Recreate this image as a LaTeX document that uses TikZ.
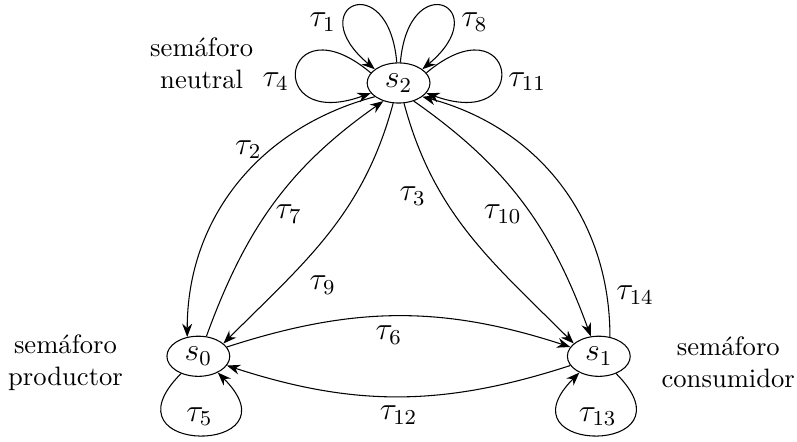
\documentclass[tikz,border=0pt]{standalone}
\usetikzlibrary{arrows.meta,shapes.geometric}

\begin{document}
\begin{tikzpicture}[x=1mm,y=1mm,>={Stealth[length=5pt]},font=\large,
    state/.style={draw,ellipse,minimum width=8.3mm,minimum height=5.3mm,inner sep=0.5pt},
    tag/.style={align=center,font=\normalsize}]
  \useasboundingbox (0,0) rectangle (105.28,58.26);
  % states
  \node[state] (s0) at (26.2,11.2) {$s_0$};
  \node[state] (s1) at (79.1,11.2) {$s_1$};
  \node[state] (s2) at (52.65,47.3) {$s_2$};
  \node[tag] (t2) at (26.64,49.93) {semáforo\\neutral};
  \node[tag] (t0) at (8.65,10.38) {semáforo\\productor};
  \node[tag] (t1) at (96.2,10.38) {semáforo\\consumidor};
  % loops
  \draw[->] (s2.95) to[out=95,in=140,min distance=12.8mm] node[left,pos=0.7] {$\tau_1$} (s2.150);
  \draw[->] (s2.85) to[out=85,in=40,min distance=12.8mm] node[right,pos=0.7] {$\tau_8$} (s2.30);
  \draw[->] (s2.160) to[out=140,in=200,min distance=15.3mm] node[left,pos=0.6] {$\tau_4$} (s2.200);
  \draw[->] (s2.20) to[out=40,in=340,min distance=15.3mm] node[right,pos=0.6] {$\tau_{11}$} (s2.340);
  \draw[->] (s0.225) to[out=-135,in=-45,min distance=15.5mm] node[above] {$\tau_5$} (s0.320);
  \draw[->] (s1.315) to[out=-45,in=-135,min distance=15.5mm] node[above] {$\tau_{13}$} (s1.220);
  % transitions
  \draw[->] (s2.210) to[out=195,in=90] node[left,pos=0.35] {$\tau_2$} (s0.120);
  \draw[->] (s0.68) to[out=70,in=215] node[right,pos=0.45] {$\tau_7$} (s2.230);
  \draw[->] (s2) to[out=255,in=45] node[below right,pos=0.65] {$\tau_9$} (s0.27);
  \draw[->] (s2) to[out=-75,in=135] node[left=1mm,pos=0.33] {$\tau_3$} (s1.153);
  \draw[->] (s2.310) to[out=-35,in=110] node[left,pos=0.55] {$\tau_{10}$} (s1.112);
  \draw[->] (s1.60) to[out=90,in=-15] node[right,pos=0.12] {$\tau_{14}$} (s2.330);
  \draw[->] (s0) to[bend left=18] node[below,pos=0.47] {$\tau_6$} (s1);
  \draw[->] (s1) to[bend left=18] node[below] {$\tau_{12}$} (s0);
\end{tikzpicture}
\end{document}
